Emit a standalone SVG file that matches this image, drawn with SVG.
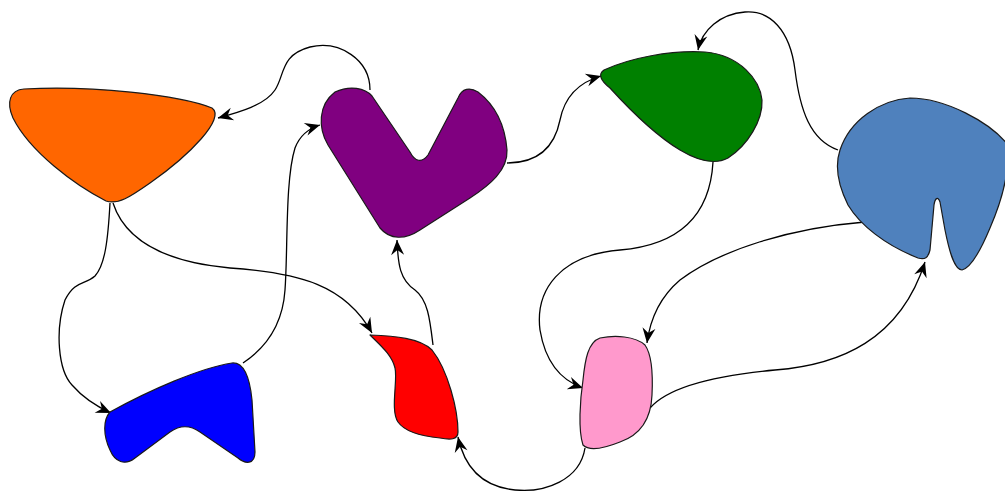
<svg xmlns="http://www.w3.org/2000/svg" width="1005" height="492" viewBox="0 0 1005 492">
<style>
.shape{stroke:#1a1a1a;stroke-width:1.2;stroke-linejoin:round}
.conn{fill:none;stroke:#000;stroke-width:1.3;marker-end:url(#arr)}
</style>
<defs>
<marker id="arr" viewBox="-17 -8 19 16" refX="0" refY="0" markerWidth="19" markerHeight="16" markerUnits="userSpaceOnUse" orient="auto">
<path d="M0,0 L-15,-6.5 L-10,0 L-15,6.5 Z" fill="#000"/>
</marker>
</defs>
<rect width="1005" height="492" fill="#fff"/>
<g id="connectors">
<path class="conn" d="M370,90 C370,60 340,40 310,47 C280,55 285,75 275,90 C265,105 240,112 218,118"/>
<path class="conn" d="M113,203 C125,240 165,262 230,268 C300,273 345,285 372,333"/>
<path class="conn" d="M110,203 C108,240 105,265 95,276 C85,285 75,280 65,300 C55,330 58,370 72,385 C85,400 100,408 111,413"/>
<path class="conn" d="M243,363 C270,345 283,320 285,290 C288,250 285,180 295,148 C300,135 310,128 320,125"/>
<path class="conn" d="M433,345 C430,320 428,300 415,290 C400,280 398,265 397,240"/>
<path class="conn" d="M507,163 C540,163 555,145 560,120 C565,95 580,82 601,76"/>
<path class="conn" d="M838,150 C810,140 800,110 795,70 C790,30 770,10 745,12 C720,14 702,30 698,50"/>
<path class="conn" d="M713,162 C710,215 680,245 620,250 C560,255 535,290 540,330 C545,360 560,380 583,388"/>
<path class="conn" d="M865,222 C790,228 720,250 680,280 C660,297 650,320 647,343"/>
<path class="conn" d="M650,408 C670,385 720,375 775,370 C840,365 900,340 925,262"/>
<path class="conn" d="M585,448 C580,480 545,493 515,490 C485,487 465,470 458,437"/>
</g>
<g id="orange"><path class="shape" fill="#ff6600" d="M24,89 C90,85 180,95 212,108 C226,118 190,155 150,183 C130,197 118,205 106,201 C75,185 30,152 13,118 C6,102 10,90 24,89 Z"/></g>
<g id="purple"><path class="shape" fill="#800080" d="M335,92 C350,85 365,88 372,96 L410,152 C415,162 422,163 428,155 L458,98 C462,88 470,87 478,92 C495,105 505,125 507,150 C508,170 490,185 470,198 L420,230 C405,240 390,240 380,228 L328,145 C318,128 318,105 335,92 Z"/></g>
<g id="green"><path class="shape" fill="#008000" d="M604,70 C630,58 670,50 705,52 C740,55 760,80 762,100 C763,120 748,145 728,158 C715,165 700,162 680,150 C655,135 630,110 610,88 C600,80 598,74 604,70 Z"/></g>
<g id="steel"><path class="shape" fill="#4f81bd" d="M840,150 C850,120 880,100 910,98 C945,98 990,122 1008,145 C1010,175 1000,205 990,228 C980,252 970,268 962,270 C955,270 950,255 945,230 L940,202 C938,196 935,198 934,205 L930,250 C928,258 925,260 918,258 C885,245 860,225 848,205 C838,185 835,165 840,150 Z"/></g>
<g id="blue"><path class="shape" fill="#0000ff" d="M110,412 C150,390 200,368 232,363 C245,362 250,380 252,400 L255,452 C255,465 245,464 238,458 L200,432 C190,425 180,425 170,432 L135,458 C125,466 115,462 110,450 C103,435 103,420 110,412 Z"/></g>
<g id="red"><path class="shape" fill="#ff0000" d="M370,335 C395,336 420,338 432,350 C448,370 458,410 458,432 C458,440 450,440 440,438 C420,436 405,432 398,422 C390,410 398,380 395,368 C392,355 380,345 370,335 Z"/></g>
<g id="pink"><path class="shape" fill="#ff99cc" d="M600,338 C615,335 635,336 645,345 C652,355 653,375 652,395 C651,420 640,435 620,442 C605,448 590,452 583,445 C578,430 580,400 583,380 C585,360 588,342 600,338 Z"/></g>
</svg>
